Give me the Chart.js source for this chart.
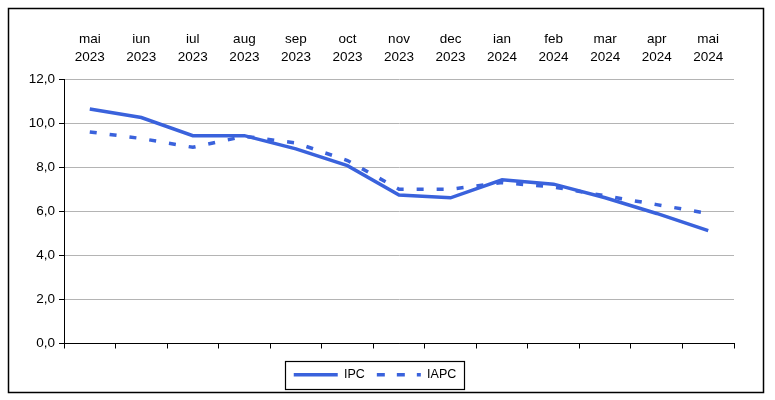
<!DOCTYPE html>
<html>
<head>
<meta charset="utf-8">
<script src="https://cdn.jsdelivr.net/npm/chart.js@4"></script>
<style>
  html, body { margin: 0; padding: 0; background: #fff; }
  #wrap { position: relative; width: 775px; height: 400px; }
</style>
</head>
<body>
<div id="wrap"><canvas id="chart" width="775" height="400"></canvas></div>
<script>
// months shown on top axis (two lines each)
const months = ['mai', 'iun', 'iul', 'aug', 'sep', 'oct', 'nov', 'dec', 'ian', 'feb', 'mar', 'apr', 'mai'];
const years = ['2023', '2023', '2023', '2023', '2023', '2023', '2023', '2023', '2024', '2024', '2024', '2024', '2024'];

// annual rates, %
const ipc = [10.64, 10.25, 9.43, 9.43, 8.83, 8.07, 6.74, 6.61, 7.43, 7.23, 6.61, 5.90, 5.12];
const iapc = [9.6, 9.3, 8.9, 9.4, 9.1, 8.3, 7.0, 7.0, 7.3, 7.1, 6.7, 6.3, 5.9];

const yTicks = [0, 2, 4, 6, 8, 10, 12];

const labels = months.map((m, i) => [m, years[i]]);
const blue = '#3a62dc';

// frame around whole picture + box around the legend
const framePlugin = {
    id: 'frame',
    afterLayout(chart) {
        // legend sits a bit right of centre in the original
        const lg = chart.legend;
        lg.left += 8;
        lg.right += 8;
        (lg.legendHitBoxes || []).forEach(b => { b.left += 8; });
    },
    afterDraw(chart) {
        const ctx = chart.ctx;
        ctx.save();
        ctx.strokeStyle = '#000';
        ctx.lineWidth = 1.5;
        ctx.strokeRect(8.5, 8.5, 755, 384);

        const boxes = chart.legend.legendHitBoxes;
        if (boxes && boxes.length) {
            const first = boxes[0];
            const last = boxes[boxes.length - 1];
            const left = first.left - 9;
            const right = last.left + last.width + 7;
            const top = first.top - 8;
            const bottom = first.top + first.height + 7;
            ctx.lineWidth = 1.2;
            ctx.strokeRect(Math.round(left) + 0.5, Math.round(top) + 0.5, Math.round(right - left), Math.round(bottom - top));
        }
        ctx.restore();
    }
};

new Chart(document.getElementById('chart'), {
    type: 'line',
    data: {
        labels: labels,
        datasets: [
            {
                label: 'IPC',
                data: ipc,
                borderColor: blue,
                backgroundColor: blue,
                borderWidth: 3.5,
                pointRadius: 0,
                tension: 0,
                xAxisID: 'x',
                yAxisID: 'y'
            },
            {
                label: 'IAPC',
                data: iapc,
                borderColor: blue,
                backgroundColor: blue,
                borderWidth: 3.5,
                borderDash: [7, 13],
                pointRadius: 0,
                tension: 0,
                xAxisID: 'x',
                yAxisID: 'y'
            }
        ]
    },
    options: {
        responsive: false,
        animation: false,
        layout: { padding: { left: 0, right: 41, top: 0, bottom: 9 } },
        plugins: {
            tooltip: { enabled: false },
            legend: {
                position: 'bottom',
                labels: {
                    boxWidth: 44,
                    boxHeight: 0,
                    padding: 12,
                    color: '#000',
                    font: { family: 'Arial, "Liberation Sans", sans-serif', size: 12.5 }
                }
            }
        },
        scales: {
            x: {
                type: 'category',
                position: 'top',
                offset: true,
                grid: { display: false, drawTicks: false },
                border: { display: false },
                ticks: {
                    color: '#000',
                    padding: 13,
                    maxRotation: 0,
                    autoSkip: false,
                    font: { family: 'Arial, "Liberation Sans", sans-serif', size: 13.5, lineHeight: 1.3 }
                },
                afterFit(scale) { scale.height = 79; }
            },
            x2: {
                type: 'category',
                position: 'bottom',
                labels: labels,
                offset: true,
                grid: {
                    offset: true,
                    drawOnChartArea: false,
                    drawTicks: true,
                    tickLength: 5,
                    color: '#000'
                },
                border: { display: true, color: '#000', width: 1 },
                ticks: { display: false },
                afterFit(scale) { scale.height = 13; }
            },
            y: {
                min: 0,
                max: 12,
                afterBuildTicks(scale) {
                    scale.ticks = yTicks.map(v => ({ value: v }));
                },
                grid: {
                    color: ctx => ctx.tick && ctx.tick.value === 0 ? '#000' : '#b4b4b4',
                    tickColor: '#000',
                    tickLength: 5,
                    lineWidth: 1
                },
                border: { display: true, color: '#000', width: 1 },
                ticks: {
                    color: '#000',
                    padding: 4,
                    font: { family: 'Arial, "Liberation Sans", sans-serif', size: 13.5 },
                    callback: v => v.toFixed(1).replace('.', ',')
                },
                afterFit(scale) { scale.width = 64; }
            }
        }
    },
    plugins: [framePlugin]
});
</script>
</body>
</html>
